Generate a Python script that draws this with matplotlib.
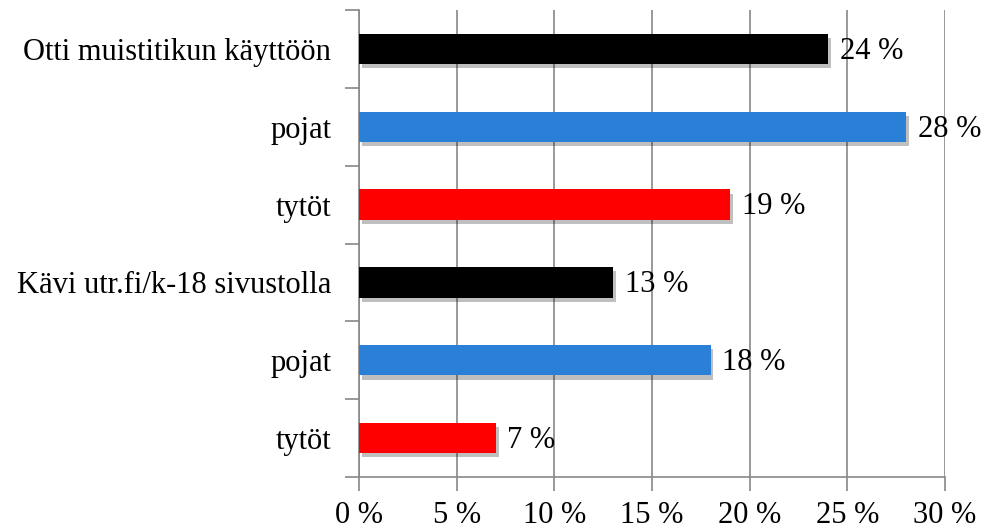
import matplotlib.pyplot as plt
import matplotlib.patheffects as pe
import numpy as np

labels = ["Otti muistitikun käyttöön", "pojat", "tytöt",
          "Kävi utr.fi/k-18 sivustolla", "pojat", "tytöt"]
values = [24, 28, 19, 13, 18, 7]
colors = ["#000000", "#2a80d6", "#ff0000", "#000000", "#2a80d6", "#ff0000"]
xticks = [0, 5, 10, 15, 20, 25, 30]

plt.rcParams['font.family'] = ['Liberation Serif', 'DejaVu Serif']

fig = plt.figure(figsize=(9.89, 5.30), dpi=100)
ax = fig.add_axes([0.363, 0.1, 0.5925, 0.881])

y = np.arange(len(labels))[::-1]
bars = ax.barh(y, values, height=0.39, color=colors, zorder=3)
for b in bars:
    b.set_path_effects([pe.SimplePatchShadow(offset=(2, -3), alpha=0.25, shadow_rgbFace='black'),
                        pe.Normal()])

for yi, v in zip(y, values):
    ax.text(v + 0.6, yi - 0.03, f"{v} %", va='center', ha='left', fontsize=22, zorder=4)

ax.set_xlim(0, 30)
ax.set_ylim(-0.5, len(labels) - 0.5)
ax.set_xticks(xticks)
ax.set_xticklabels([f"{t} %" for t in xticks], fontsize=22)
ax.set_yticks(y)
ax.set_yticklabels(labels, fontsize=22)
ax.set_yticks(np.arange(-0.5, len(labels)), minor=True)
ax.tick_params(axis='y', which='major', length=0, pad=20)
ax.tick_params(axis='y', which='minor', length=10, color='#888888', width=1.2)
ax.tick_params(axis='x', length=10, color='#888888', width=1.2, pad=7)

ax.grid(axis='x', color='#888888', linewidth=1.2, zorder=0)
for s in ['top', 'right']:
    ax.spines[s].set_visible(False)
for s in ['left', 'bottom']:
    ax.spines[s].set_color('#888888')
    ax.spines[s].set_linewidth(1.2)

fig.savefig("out.png", dpi=100)
